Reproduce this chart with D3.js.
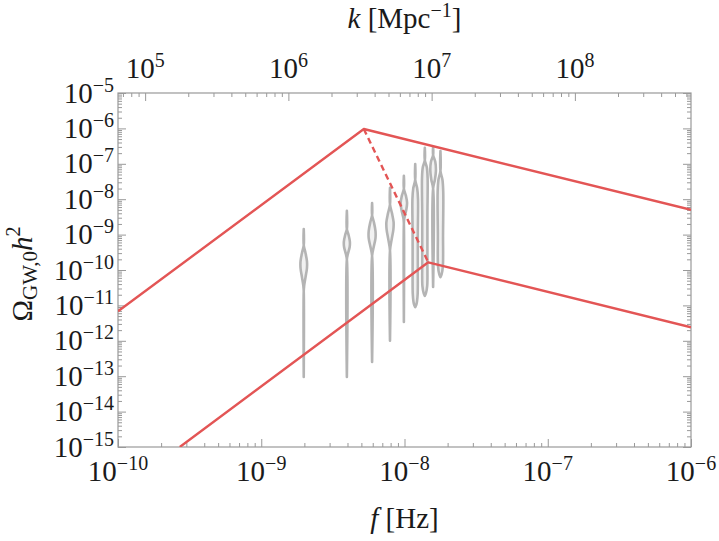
<!DOCTYPE html>
<html><head><meta charset="utf-8">
<script src="https://cdn.jsdelivr.net/npm/d3@7"></script>
<style>body{margin:0;background:#fff}svg{display:block}</style>
</head><body>
<svg id="chart" width="719" height="541"></svg>
<script>
// ---------- data ----------
const xDomain = [1e-10, 1e-6];
const yDomain = [1e-15, 1e-5];
const kPerHz = 6.465e14; // k [Mpc^-1] per f [Hz]
const xTickValues = [1e-10, 1e-9, 1e-8, 1e-7, 1e-6];
const xTickExps = ["−10", "−9", "−8", "−7", "−6"];
const yTickValues = [1e-15, 1e-14, 1e-13, 1e-12, 1e-11, 1e-10, 1e-9, 1e-8, 1e-7, 1e-6, 1e-5];
const yTickExps = ["−15", "−14", "−13", "−12", "−11", "−10", "−9", "−8", "−7", "−6", "−5"];
const kTickValues = [1e5, 1e6, 1e7, 1e8];
const kTickExps = ["5", "6", "7", "8"];

const upperCurve = [[1e-10, 6.8e-12], [5.2e-9, 9.6e-7], [1e-6, 5.0e-9]];
const lowerCurve = [[2.7e-10, 1e-15], [1.465e-8, 1.65e-10], [1e-6, 2.4e-12]];
const transitionCurve = [[5.2e-9, 9.6e-7], [1.465e-8, 1.65e-10]];

const violinFreqs = [1.98e-9, 3.96e-9, 5.94e-9, 7.92e-9, 9.90e-9, 1.188e-8, 1.386e-8, 1.584e-8, 1.782e-8];
// [log10 Omega, relative density]
const violinProfiles = [
  [[-8.84,0],[-9.3,0],[-9.5,0.4],[-9.75,0.8],[-9.95,0.8],[-10.2,0.45],[-10.45,0.1],[-10.6,0],[-13.02,0]],
  [[-8.33,0],[-8.85,0],[-9.0,0.4],[-9.2,0.75],[-9.35,0.7],[-9.55,0.25],[-9.7,0],[-13.02,0]],
  [[-8.11,0],[-8.45,0],[-8.65,0.45],[-8.9,0.85],[-9.1,0.85],[-9.35,0.4],[-9.6,0],[-12.6,0]],
  [[-7.68,0],[-8.15,0],[-8.4,0.5],[-8.65,0.9],[-8.85,0.85],[-9.15,0.4],[-9.45,0],[-12.0,0]],
  [[-7.34,0],[-7.7,0],[-7.9,0.5],[-8.1,0.8],[-8.3,0.6],[-8.55,0.1],[-8.7,0],[-11.47,0]],
  [[-7.01,0],[-7.45,0],[-7.7,0.5],[-8.0,0.7],[-9.0,0.65],[-10.0,0.65],[-10.7,0.6],[-10.95,0.35],[-11.05,0]],
  [[-6.55,0],[-6.9,0],[-7.1,0.5],[-7.4,0.7],[-8.5,0.65],[-9.8,0.65],[-10.45,0.6],[-10.65,0.3],[-10.73,0]],
  [[-6.53,0],[-6.75,0],[-6.95,0.55],[-7.2,0.7],[-7.45,0.45],[-7.7,0],[-10.48,0]],
  [[-6.64,0],[-7.2,0],[-7.45,0.5],[-7.8,0.7],[-9.0,0.65],[-9.9,0.6],[-10.12,0.3],[-10.2,0]]
];

// ---------- layout ----------
const L = 118, R = 691, T = 93, B = 447;
const svg = d3.select("#chart");
const FONT = "'Liberation Serif','Times New Roman',serif";
const RED = "#e35555", GRAY = "#b4b4b4", AX = "#999";
const FS = 29, SFS = 20, SUP = 11;

const x = d3.scaleLog().domain(xDomain).range([L, R]);
const y = d3.scaleLog().domain(yDomain).range([B, T]);
const k = d3.scaleLog().domain([xDomain[0]*kPerHz, xDomain[1]*kPerHz]).range([L, R]);
const wScale = d3.scaleLinear().domain([0, 1]).range([0, 4]);

const isPow = v => Math.abs(Math.log10(v) - Math.round(Math.log10(v))) < 1e-6;
const xMinor = x.ticks(20).filter(v => !isPow(v));
const yMinor = y.ticks(30).filter(v => !isPow(v));
const kMinor = k.ticks(20).filter(v => !isPow(v));

svg.append("defs").append("clipPath").attr("id","clip")
  .append("rect").attr("x",L).attr("y",T).attr("width",R-L).attr("height",B-T);

// ---------- axes ----------
function ax(gen, tr, vals, size) {
  const g = svg.append("g").attr("transform", tr).attr("color", AX)
    .call(gen.tickValues(vals).tickSize(-size).tickSizeOuter(0).tickFormat(""));
  g.select(".domain").remove();
  g.selectAll(".tick line").attr("stroke-width", 1);
  return g;
}
ax(d3.axisBottom(x), `translate(0,${B})`, xTickValues, 8);
ax(d3.axisBottom(x), `translate(0,${B})`, xMinor, 4);
ax(d3.axisTop(k), `translate(0,${T})`, kTickValues, 8);
ax(d3.axisTop(k), `translate(0,${T})`, kMinor, 4);
ax(d3.axisLeft(y), `translate(${L},0)`, yTickValues, 8);
ax(d3.axisLeft(y), `translate(${L},0)`, yMinor, 4);
ax(d3.axisRight(y), `translate(${R},0)`, yTickValues, 8);
ax(d3.axisRight(y), `translate(${R},0)`, yMinor, 4);
svg.append("rect").attr("x",L).attr("y",T).attr("width",R-L).attr("height",B-T)
  .attr("fill","none").attr("stroke",AX).attr("stroke-width",1.2);

// ---------- violins ----------
const plot = svg.append("g").attr("clip-path","url(#clip)");
violinFreqs.forEach((f, i) => {
  const cx = x(f);
  const area = d3.area()
    .y(d => y(Math.pow(10, d[0])))
    .x0(d => cx - wScale(d[1]))
    .x1(d => cx + wScale(d[1]))
    .curve(d3.curveCatmullRom);
  plot.append("path").attr("d", area(violinProfiles[i]))
    .attr("fill", "#f1f1f1").attr("stroke", GRAY).attr("stroke-width", 2.6)
    .attr("stroke-linejoin","round");
});

// ---------- curves ----------
const line = d3.line().x(d => x(d[0])).y(d => y(d[1]));
plot.append("path").attr("d", line(upperCurve)).attr("fill","none")
  .attr("stroke", RED).attr("stroke-width", 2.4).attr("stroke-linejoin","round");
plot.append("path").attr("d", line(lowerCurve)).attr("fill","none")
  .attr("stroke", RED).attr("stroke-width", 2.4).attr("stroke-linejoin","round");
plot.append("path").attr("d", line(transitionCurve)).attr("fill","none")
  .attr("stroke", RED).attr("stroke-width", 2.4).attr("stroke-dasharray","6,4");

// ---------- tick labels ----------
function powLabel(px, py, exp, anchor) {
  const t = svg.append("text").attr("x", px).attr("y", py)
    .attr("text-anchor", anchor).attr("font-family", FONT)
    .attr("font-size", FS).attr("fill", "#1a1a1a");
  t.append("tspan").text("10");
  t.append("tspan").attr("dy", -SUP).attr("font-size", SFS).text(exp);
}
xTickValues.forEach((v, i) => powLabel(x(v), 481, xTickExps[i], "middle"));
yTickValues.forEach((v, i) => powLabel(114, y(v) + 9.5, yTickExps[i], "end"));
kTickValues.forEach((v, i) => powLabel(k(v), 78, kTickExps[i], "middle"));

// ---------- titles ----------
const bt = svg.append("text").attr("x", (L+R)/2).attr("y", 528).attr("text-anchor","middle")
  .attr("font-family", FONT).attr("font-size", FS).attr("fill","#1a1a1a");
bt.append("tspan").attr("font-style","italic").text("f");
bt.append("tspan").text(" [Hz]");

const tt = svg.append("text").attr("x", (L+R)/2).attr("y", 28).attr("text-anchor","middle")
  .attr("font-family", FONT).attr("font-size", FS).attr("fill","#1a1a1a");
tt.append("tspan").attr("font-style","italic").text("k");
tt.append("tspan").text(" [Mpc");
tt.append("tspan").attr("dy", -SUP).attr("font-size", SFS).text("−1");
tt.append("tspan").attr("dy", SUP).text("]");

const yt = svg.append("text").attr("transform", `translate(32,${(T+B)/2 + 4}) rotate(-90)`)
  .attr("text-anchor","middle").attr("font-family", FONT).attr("font-size", FS).attr("fill","#1a1a1a");
yt.append("tspan").text("Ω");
yt.append("tspan").attr("dy", 5).attr("font-size", 21).text("GW,0");
yt.append("tspan").attr("dy", -5).attr("font-style","italic").text("h");
yt.append("tspan").attr("dy", -12).attr("font-size", SFS).text("2");
</script>
</body></html>
